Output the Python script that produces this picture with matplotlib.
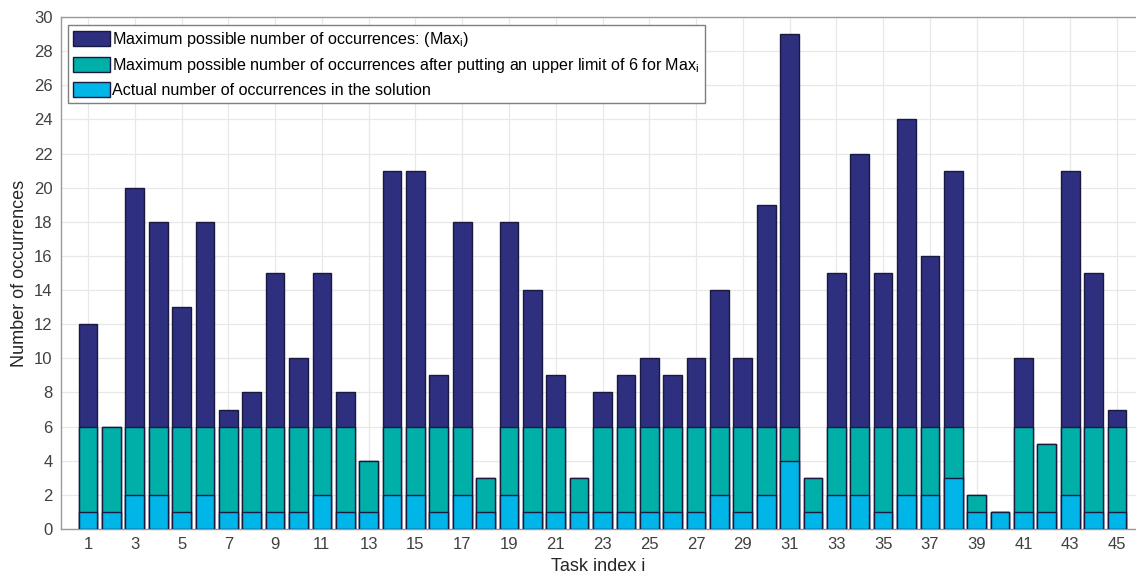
import numpy as np
import matplotlib
matplotlib.use("Agg")
import matplotlib.pyplot as plt

# data
tasks = list(range(1, 46))
max_occ = [12, 6, 20, 18, 13, 18, 7, 8, 15, 10, 15, 8, 4, 21, 21, 9, 18, 3, 18, 14,
           9, 3, 8, 9, 10, 9, 10, 14, 10, 19, 29, 3, 15, 22, 15, 24, 16, 21, 2, 1,
           10, 5, 21, 15, 7]
capped_occ = [min(v, 6) for v in max_occ]
actual_occ = [1, 1, 2, 2, 1, 2, 1, 1, 1, 1, 2, 1, 1, 2, 2, 1, 2, 1, 2, 1,
              1, 1, 1, 1, 1, 1, 1, 2, 1, 2, 4, 1, 2, 2, 1, 2, 2, 3, 1, 1,
              1, 1, 2, 1, 1]
labels = [r"Maximum possible number of occurrences: (Max$\mathregular{_i}$)",
          r"Maximum possible number of occurrences after putting an upper limit of 6 for Max$\mathregular{_i}$",
          "Actual number of occurrences in the solution"]
colors = ["#2e2f7f", "#00afa8", "#00b5e8"]

plt.rcParams['font.family'] = ['Liberation Sans', 'DejaVu Sans']
plt.rcParams['mathtext.fontset'] = 'custom'
plt.rcParams['mathtext.rm'] = 'Liberation Sans'

W, H = 1136, 581
fig = plt.figure(figsize=(W / 100, H / 100), dpi=100)
# pixel layout: left spine ~61px, x-axis at y=529, top at y=17
ax = fig.add_axes([61 / W, (H - 529) / H, (W - 61) / W, 512 / H])

x = np.array(tasks)
for vals, c, lab in zip([max_occ, capped_occ, actual_occ], colors, labels):
    ax.bar(x, vals, width=0.8, color=c, edgecolor="#1a1a40", linewidth=1.0,
           label=lab, zorder=3)

unit = (1117 - 88) / 44
ax.set_xlim(1 - (88 - 61) / unit, 1 + (W - 88) / unit)
ax.set_ylim(0, 30)
ax.set_xticks(range(1, 46, 2))
ax.set_yticks(range(0, 31, 2))
ax.grid(True, color="#e8e8e8", linewidth=0.9, zorder=0)
ax.set_axisbelow(True)
ax.spines['right'].set_visible(False)
for s in ['left', 'top', 'bottom']:
    ax.spines[s].set_color("#9a9a9a")
    ax.spines[s].set_linewidth(1.0)
ax.tick_params(axis='both', length=0, labelsize=12, labelcolor="#404040", pad=6)

ax.set_xlabel("Task index i", fontsize=13, color="#262626", labelpad=4)
ax.set_ylabel("Number of occurrences", fontsize=13, color="#262626", labelpad=4)

leg = ax.legend(loc="upper left", bbox_to_anchor=(7 / (W - 61), 1 - 8 / 512),
                fontsize=11.6, frameon=True, fancybox=False, framealpha=1,
                edgecolor="#7f7f7f", handlelength=2.3, handleheight=1.0,
                handletextpad=0.15, borderaxespad=0, borderpad=0.3,
                labelspacing=0.45)
leg.get_frame().set_linewidth(1.0)

fig.savefig("out.png", dpi=100)
